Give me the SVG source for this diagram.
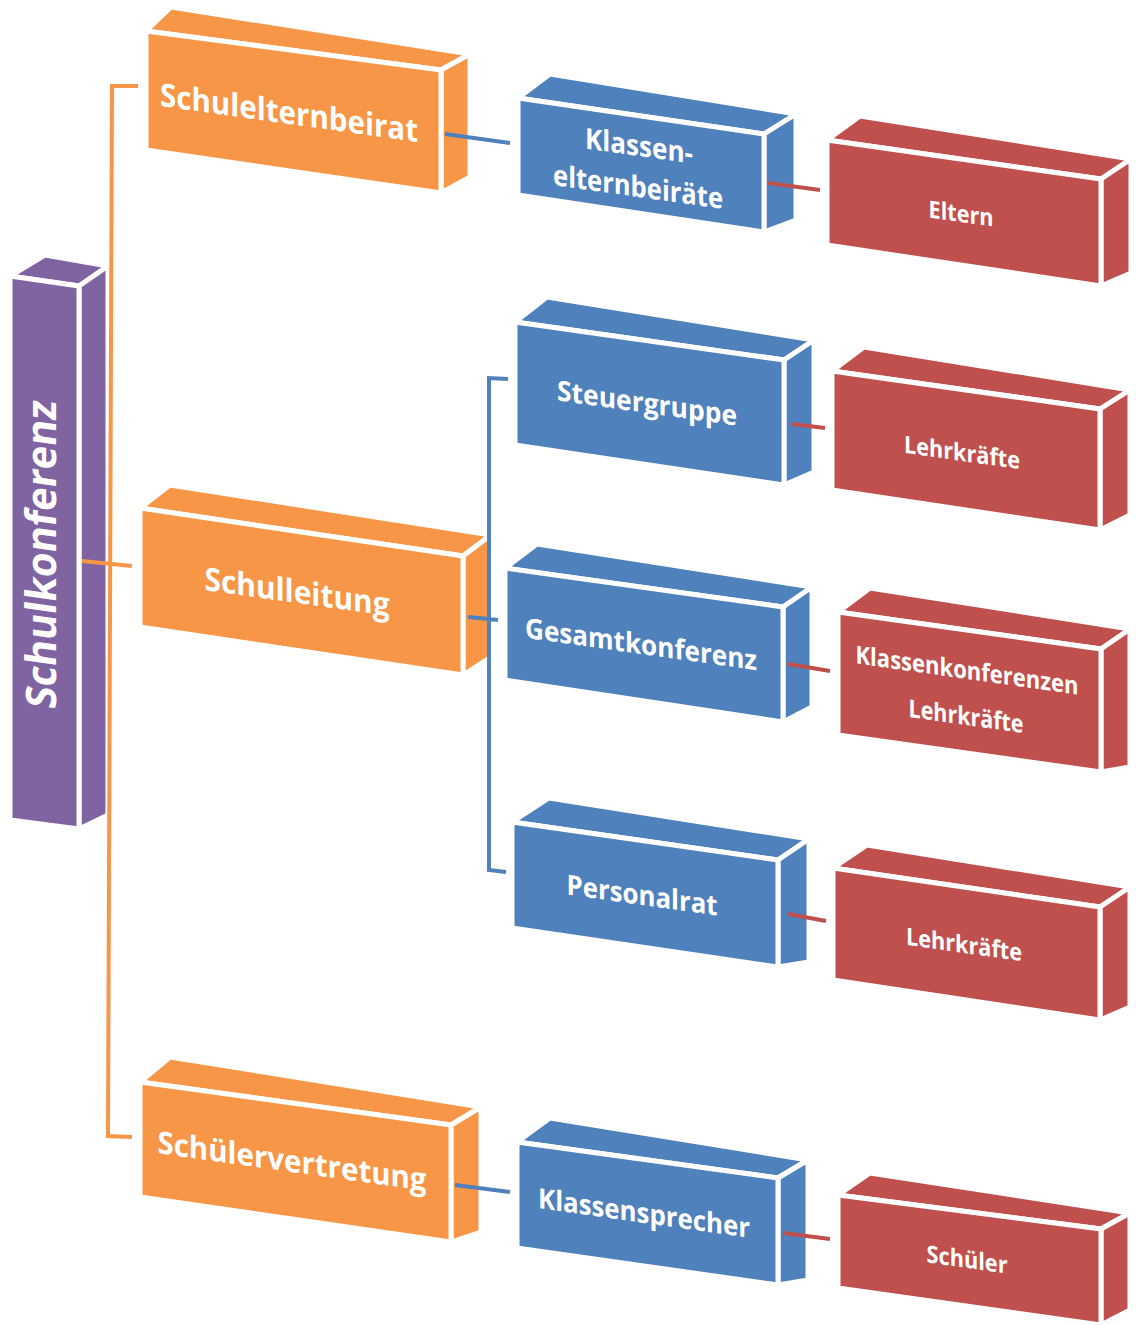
<svg xmlns="http://www.w3.org/2000/svg" width="1136" height="1325" viewBox="0 0 1136 1325">
<style>
.f{stroke:#fff;stroke-width:5;stroke-linejoin:round}
.o{fill:#F79646}.b{fill:#4F81BD}.r{fill:#C0504D}.p{fill:#8064A2}
.t{font-family:"Open Sans","Liberation Sans",sans-serif;font-weight:700;fill:#fff;text-anchor:middle}
.c{fill:none;stroke-width:4;stroke-linejoin:miter}
</style>
<rect width="1136" height="1325" fill="#fff"/>
<g id="schulkonferenz" class="p">
<polygon class="f" points="10,276 45,255 108,266 79,286"/>
<polygon class="f" points="79,286 108,266 108,815 79,829"/>
<polygon class="f" points="10,276 79,286 79,829 10,820"/>
<text class="t" font-size="42" textLength="308" lengthAdjust="spacingAndGlyphs" transform="translate(56,556) skewY(8) rotate(-90)">Schulkonferenz</text>
</g>
<g id="schulelternbeirat" class="o">
<polygon class="f" points="146,31 171,7 470,54 441,70"/>
<polygon class="f" points="441,70 470,54 470,177 441,193"/>
<polygon class="f" points="146,31 441,70 441,193 146,150"/>
<text class="t" font-size="32" textLength="258" lengthAdjust="spacingAndGlyphs" transform="translate(289,124) skewY(8)">Schulelternbeirat</text>
</g>
<g id="klassenelternbeiraete" class="b">
<polygon class="f" points="518,98 550,74 796,114 764,134"/>
<polygon class="f" points="764,134 796,114 796,220 764,232"/>
<polygon class="f" points="518,98 764,134 764,232 518,195"/>
<text class="t" font-size="29" textLength="108" lengthAdjust="spacingAndGlyphs" transform="translate(639,156) skewY(8)">Klassen-</text>
<text class="t" font-size="29" textLength="170" lengthAdjust="spacingAndGlyphs" transform="translate(638,197) skewY(8)">elternbeiräte</text>
</g>
<g id="eltern" class="r">
<polygon class="f" points="827,140 860,116 1131,159 1101,179"/>
<polygon class="f" points="1101,179 1131,159 1131,273 1101,286"/>
<polygon class="f" points="827,140 1101,179 1101,286 827,245"/>
<text class="t" font-size="24" textLength="65" lengthAdjust="spacingAndGlyphs" transform="translate(961,222) skewY(8)">Eltern</text>
</g>
<g id="schulleitung" class="o">
<polygon class="f" points="140,508 170,485 491,535 463,556"/>
<polygon class="f" points="463,556 491,535 491,657 463,675"/>
<polygon class="f" points="140,508 463,556 463,675 140,627"/>
<text class="t" font-size="32" textLength="185" lengthAdjust="spacingAndGlyphs" transform="translate(297,603) skewY(8)">Schulleitung</text>
</g>
<g id="steuergruppe" class="b">
<polygon class="f" points="515,322 547,297 814,340 784,360"/>
<polygon class="f" points="784,360 814,340 814,472 784,485"/>
<polygon class="f" points="515,322 784,360 784,485 515,445"/>
<text class="t" font-size="28" textLength="180" lengthAdjust="spacingAndGlyphs" transform="translate(647,413) skewY(8)">Steuergruppe</text>
</g>
<g id="lehrkraefte1" class="r">
<polygon class="f" points="832,371 864,347 1130,390 1100,409"/>
<polygon class="f" points="1100,409 1130,390 1130,515 1100,530"/>
<polygon class="f" points="832,371 1100,409 1100,530 832,490"/>
<text class="t" font-size="24" textLength="116" lengthAdjust="spacingAndGlyphs" transform="translate(962,461) skewY(8)">Lehrkräfte</text>
</g>
<g id="gesamtkonferenz" class="b">
<polygon class="f" points="505,568 537,544 812,587 783,607"/>
<polygon class="f" points="783,607 812,587 812,707 783,722"/>
<polygon class="f" points="505,568 783,607 783,722 505,680"/>
<text class="t" font-size="28" textLength="232" lengthAdjust="spacingAndGlyphs" transform="translate(641,654) skewY(8)">Gesamtkonferenz</text>
</g>
<g id="klassenkonferenzen" class="r">
<polygon class="f" points="838,612 870,588 1130,629 1101,649"/>
<polygon class="f" points="1101,649 1130,629 1130,767 1101,772"/>
<polygon class="f" points="838,612 1101,649 1101,772 838,735"/>
<text class="t" font-size="25" textLength="223" lengthAdjust="spacingAndGlyphs" transform="translate(967,679) skewY(8)">Klassenkonferenzen</text>
<text class="t" font-size="25" textLength="115" lengthAdjust="spacingAndGlyphs" transform="translate(966,725) skewY(8)">Lehrkräfte</text>
</g>
<g id="personalrat" class="b">
<polygon class="f" points="512,822 549,798 809,839 778,860"/>
<polygon class="f" points="778,860 809,839 809,962 778,967"/>
<polygon class="f" points="512,822 778,860 778,967 512,928"/>
<text class="t" font-size="28" textLength="151" lengthAdjust="spacingAndGlyphs" transform="translate(642,905) skewY(8)">Personalrat</text>
</g>
<g id="lehrkraefte2" class="r">
<polygon class="f" points="833,868 867,845 1130,887 1100,907"/>
<polygon class="f" points="1100,907 1130,887 1130,1007 1100,1020"/>
<polygon class="f" points="833,868 1100,907 1100,1020 833,980"/>
<text class="t" font-size="24" textLength="116" lengthAdjust="spacingAndGlyphs" transform="translate(964,953) skewY(8)">Lehrkräfte</text>
</g>
<g id="schuelervertretung" class="o">
<polygon class="f" points="140,1082 170,1057 481,1107 451,1125"/>
<polygon class="f" points="451,1125 481,1107 481,1232 451,1242"/>
<polygon class="f" points="140,1082 451,1125 451,1242 140,1197"/>
<text class="t" font-size="31" textLength="269" lengthAdjust="spacingAndGlyphs" transform="translate(292,1172) skewY(8)">Schülervertretung</text>
</g>
<g id="klassensprecher" class="b">
<polygon class="f" points="517,1142 550,1118 808,1160 778,1178"/>
<polygon class="f" points="778,1178 808,1160 808,1280 778,1285"/>
<polygon class="f" points="517,1142 778,1178 778,1285 517,1248"/>
<text class="t" font-size="28" textLength="212" lengthAdjust="spacingAndGlyphs" transform="translate(644,1223) skewY(8)">Klassensprecher</text>
</g>
<g id="schueler" class="r">
<polygon class="f" points="838,1195 870,1173 1130,1213 1101,1229"/>
<polygon class="f" points="1101,1229 1130,1213 1130,1310 1101,1325"/>
<polygon class="f" points="838,1195 1101,1229 1101,1325 838,1288"/>
<text class="t" font-size="24" textLength="81" lengthAdjust="spacingAndGlyphs" transform="translate(967,1268) skewY(8)">Schüler</text>
</g>
<g id="connectors">
<path class="c" stroke="#F79646" d="M138,86 L112,86 L108,1136 L132,1137 M82,561 L132,566"/>
<path class="c" stroke="#4F81BD" d="M445,134 L510,143 M508,379 L489,378 L489,870 L506,872 M468,617 L498,620 M455,1185 L510,1192"/>
<path class="c" stroke="#C0504D" d="M768,183 L820,190 M792,424 L825,428 M788,664 L830,671 M788,914 L826,921 M783,1233 L830,1239"/>
</g>
</svg>
